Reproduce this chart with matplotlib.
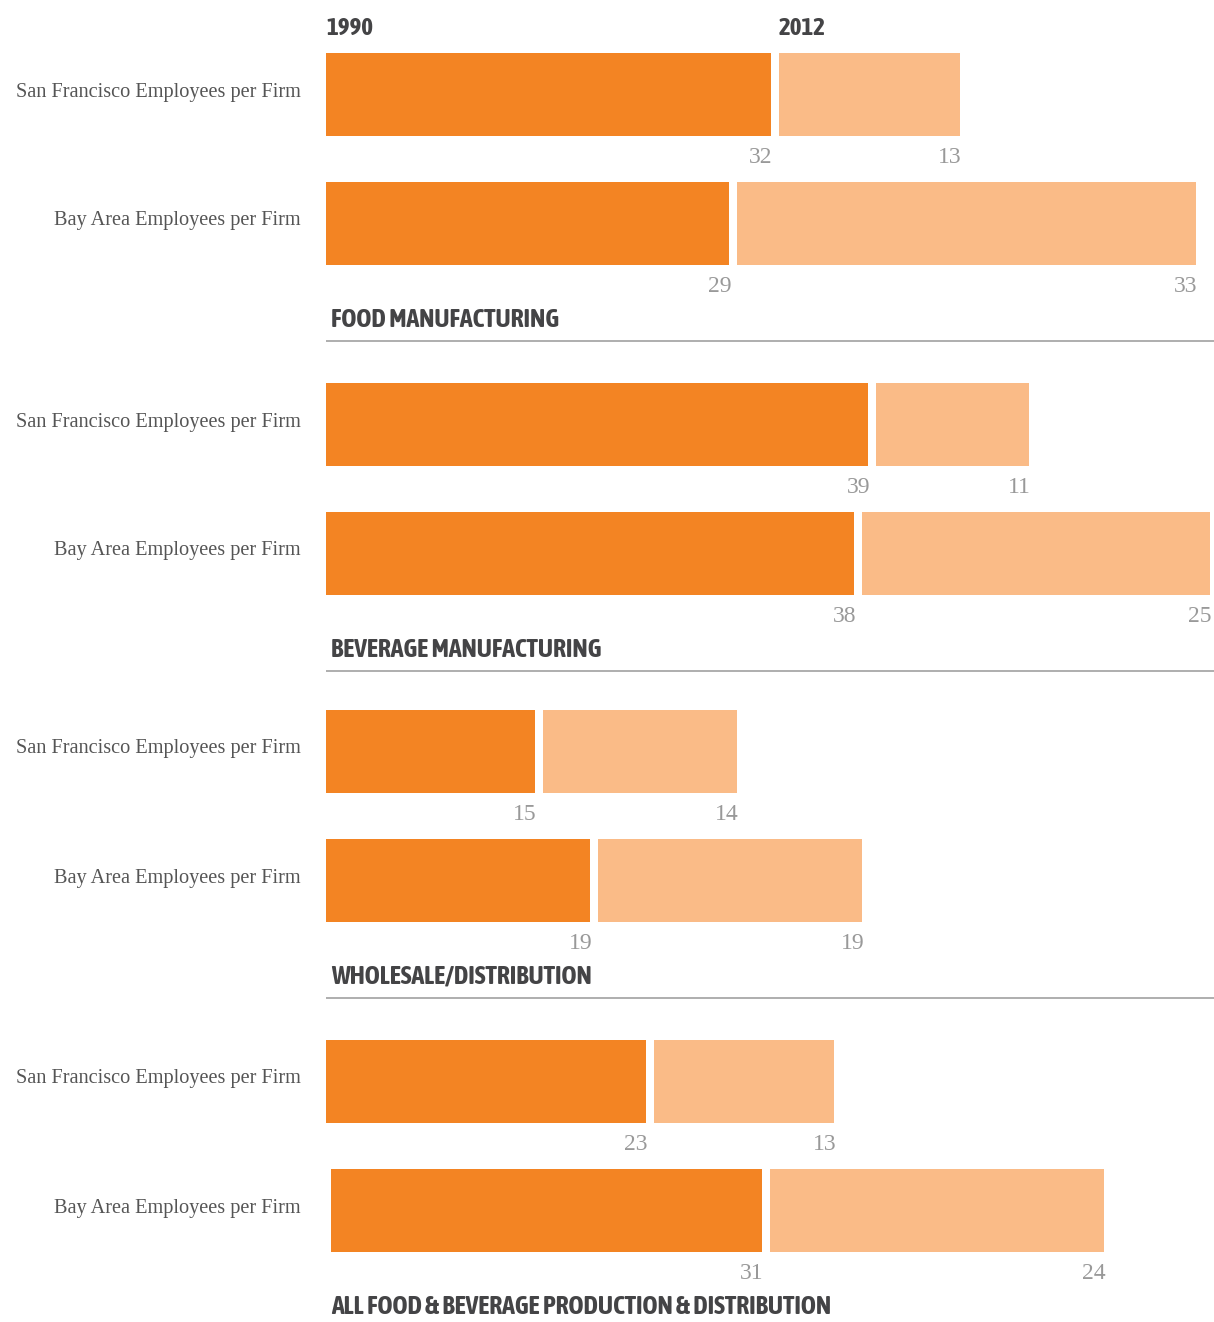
import matplotlib
matplotlib.use("Agg")
import matplotlib.pyplot as plt
from matplotlib import font_manager as fm

# ---------------- data ----------------
sections = ["FOOD MANUFACTURING", "BEVERAGE MANUFACTURING",
            "WHOLESALE/DISTRIBUTION",
            "ALL FOOD & BEVERAGE PRODUCTION & DISTRIBUTION"]
row_labels = ["San Francisco Employees per Firm", "Bay Area Employees per Firm"]
years = ["1990", "2012"]
sf_1990 = [32, 39, 15, 23]
sf_2012 = [13, 11, 14, 13]
bay_1990 = [29, 38, 19, 31]
bay_2012 = [33, 25, 19, 24]

# ---------------- style / layout ----------------
C1990 = "#F38423"
C2012 = "#FABB87"
TXT_DARK = "#444446"
TXT_LABEL = "#555555"
TXT_VAL = "#999999"

W, H, DPI = 1214, 1322, 100
PX_PER_UNIT = 13.9            # pixels per employee-per-firm unit
X0 = 326                      # pixel x of value 0
GAP = 8 / PX_PER_UNIT         # gap between 1990 and 2012 bars (units)
BAR_H = 83                    # px
block_top = [53, 383, 710, 1040]
ROW_STEP = 129
row_shift = [[0, 0], [0, 0], [0, 0], [0, 5 / PX_PER_UNIT]]

# pick a condensed bold face if one is installed
COND = None
for f in fm.fontManager.ttflist:
    if any(k in f.name for k in ("Condensed", "Narrow")) and f.weight in (700, "bold"):
        COND = dict(family=f.name, weight="bold")
        break
if COND is None:
    for f in fm.fontManager.ttflist:
        if f.stretch in ("condensed", "semi-condensed", "extra-condensed") and \
                f.weight in (700, "bold"):
            COND = dict(family=f.name, stretch=f.stretch, weight="bold")
            break
if COND is None:
    COND = dict(family="DejaVu Sans", stretch="condensed", weight="bold")
SERIF = "Liberation Serif"

fig = plt.figure(figsize=(W / DPI, H / DPI), dpi=DPI)
ax = fig.add_axes([0, 0, 1, 1])
ax.set_xlim(-X0 / PX_PER_UNIT, (W - X0) / PX_PER_UNIT)
ax.set_ylim(H, 0)
ax.axis("off")

def u(px):
    """pixel offset relative to X0 -> data units"""
    return px / PX_PER_UNIT

for i, sec in enumerate(sections):
    rows = [(sf_1990[i], sf_2012[i]), (bay_1990[i], bay_2012[i])]
    for r, (v90, v12) in enumerate(rows):
        top = block_top[i] + r * ROW_STEP
        yc = top + BAR_H / 2
        s = row_shift[i][r]
        ax.barh(yc, v90, left=s, height=BAR_H, color=C1990, edgecolor="none")
        ax.barh(yc, v12, left=s + v90 + GAP, height=BAR_H, color=C2012,
                edgecolor="none")
        ax.text(s + v90 + u(2), top + BAR_H + 27, str(v90), ha="right",
                va="baseline", fontsize=17, color=TXT_VAL, family=SERIF)
        ax.text(s + v90 + GAP + v12 + u(2), top + BAR_H + 27, str(v12),
                ha="right", va="baseline", fontsize=17, color=TXT_VAL,
                family=SERIF)
        ax.text(u(-25), yc + 2, row_labels[r], ha="right", va="baseline",
                fontsize=14.6, color=TXT_LABEL, family=SERIF)
    bay_bottom = block_top[i] + ROW_STEP + BAR_H
    ax.text(u(5), bay_bottom + 62, sec, ha="left", va="baseline",
            fontsize=18.6, color=TXT_DARK, **COND)
    if i < len(sections) - 1:
        ax.plot([u(0), u(W - X0)], [bay_bottom + 76] * 2, color="#999999",
                lw=1.1, solid_capstyle="butt")

ax.text(u(0), 35, years[0], ha="left", va="baseline", fontsize=18,
        color=TXT_DARK, **COND)
ax.text(sf_1990[0] + GAP, 35, years[1], ha="left", va="baseline",
        fontsize=18, color=TXT_DARK, **COND)

fig.savefig("out.png", dpi=DPI, facecolor="white")
